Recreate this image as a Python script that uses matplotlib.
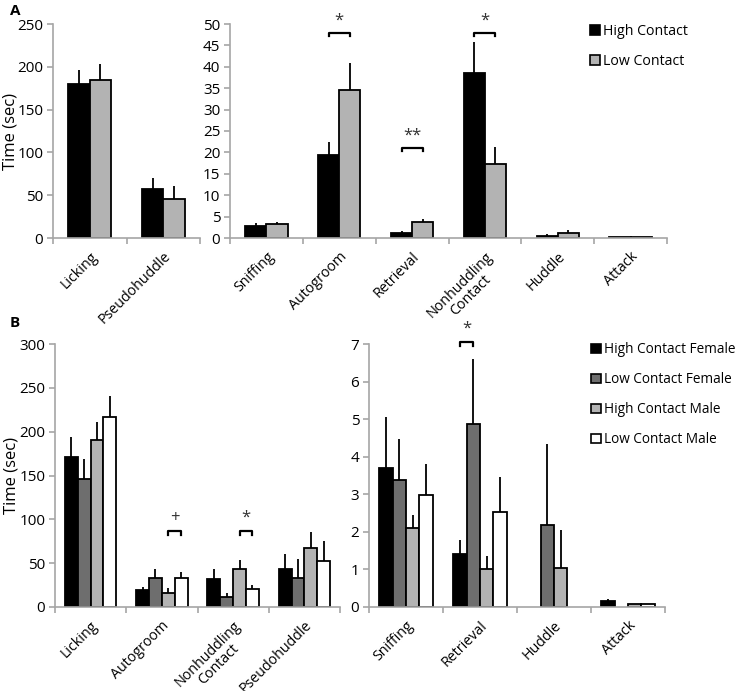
import numpy as np
import matplotlib
matplotlib.use("Agg")
import matplotlib.pyplot as plt
from matplotlib.patches import Patch

plt.rcParams['font.family'] = ['Open Sans', 'DejaVu Sans']

# ---------------- data: panel A ----------------
a_left_cats = ["Licking", "Pseudohuddle"]
a_left_high = [180, 57]
a_left_high_err = [16, 13]
a_left_low = [185, 45]
a_left_low_err = [18, 16]

a_right_cats = ["Sniffing", "Autogroom", "Retrieval", "Nonhuddling\nContact", "Huddle", "Attack"]
a_right_high = [2.9, 19.3, 1.2, 38.5, 0.55, 0.15]
a_right_high_err = [0.5, 3.2, 0.4, 7.4, 0.45, 0.05]
a_right_low = [3.2, 34.6, 3.7, 17.2, 1.25, 0.15]
a_right_low_err = [0.5, 6.2, 0.8, 4.1, 0.65, 0.05]

a_groups = ["High Contact", "Low Contact"]
a_colors = ["black", "#b3b3b3"]

# significance marks in panel A right: (category index, height, text)
a_sig = [(1, 48.0, "*"), (2, 21.0, "**"), (3, 48.0, "*")]

# ---------------- data: panel B ----------------
b_left_cats = ["Licking", "Autogroom", "Nonhuddling\nContact", "Pseudohuddle"]
b_left_vals = [
    [171, 19.1, 32.0, 43.8],   # High Contact Female
    [146, 33.5, 11.4, 33.5],   # Low Contact Female
    [191, 16.4, 43.8, 67.5],   # High Contact Male
    [217, 33.5, 20.2, 52.3],   # Low Contact Male
]
b_left_err = [
    [23, 4.2, 11.5, 16.8],
    [23, 10.0, 5.0, 21.8],
    [20, 5.0, 9.6, 18.3],
    [24, 6.5, 4.6, 23.2],
]

b_right_cats = ["Sniffing", "Retrieval", "Huddle", "Attack"]
b_right_vals = [
    [3.70, 1.41, 0.0, 0.15],
    [3.37, 4.88, 2.19, 0.0],
    [2.11, 1.00, 1.05, 0.07],
    [2.99, 2.52, 0.0, 0.07],
]
b_right_err = [
    [1.36, 0.38, 0.0, 0.06],
    [1.11, 1.72, 2.14, 0.0],
    [0.35, 0.36, 1.01, 0.02],
    [0.81, 0.93, 0.0, 0.02],
]

b_groups = ["High Contact Female", "Low Contact Female", "High Contact Male", "Low Contact Male"]
b_colors = ["black", "#6e6e6e", "#b3b3b3", "white"]

# significance marks in panel B: (category index, bar i, bar j, height, text)
b_left_sig = [(1, 2, 3, 86.6, "+"), (2, 2, 3, 86.6, "*")]
b_right_sig = [(1, 0, 1, 7.05, "*")]

AXIS_GRAY = "#a6a6a6"
W, H = 744, 691


def make_axes(fig, x0, y0, x1, y1):
    return fig.add_axes([x0 / W, 1 - y1 / H, (x1 - x0) / W, (y1 - y0) / H])


def style_axes(ax, ncat, cats, ymax, ystep):
    for s in ["top", "right"]:
        ax.spines[s].set_visible(False)
    for s in ["left", "bottom"]:
        ax.spines[s].set_color(AXIS_GRAY)
        ax.spines[s].set_linewidth(1.2)
    ax.set_xlim(0, ncat)
    ax.set_ylim(0, ymax)
    ax.set_yticks(np.arange(0, ymax + ystep / 2, ystep))
    ax.tick_params(axis="y", colors=AXIS_GRAY, labelcolor="black", length=4,
                   width=1.2, labelsize=11, pad=3)
    # category boundaries as ticks, labels at centres
    ax.set_xticks(np.arange(0, ncat + 1), minor=False)
    ax.set_xticklabels([])
    ax.tick_params(axis="x", which="major", colors=AXIS_GRAY, length=4, width=1.2)
    ax.set_xticks(np.arange(ncat) + 0.5, minor=True)
    ax.set_xticklabels(cats, minor=True, rotation=45, ha="right",
                       rotation_mode="anchor", fontsize=10.3, multialignment="center",
                       linespacing=1.0)
    ax.tick_params(axis="x", which="minor", length=0, pad=8, labelcolor="black")


def draw_bars(ax, vals, errs, colors, width):
    n = len(vals)
    x = np.arange(len(vals[0])) + 0.5
    offs = (np.arange(n) - (n - 1) / 2) * width
    for i in range(n):
        v = np.array(vals[i], dtype=float)
        e = np.array(errs[i], dtype=float)
        keep = v > 0
        ax.bar((x + offs[i])[keep], v[keep], width, color=colors[i], edgecolor="black",
               linewidth=1.3, zorder=2)
        for xi, vi, ei in zip(x + offs[i], v, e):
            if ei > 0:
                ax.plot([xi, xi], [vi, vi + ei], color="black", lw=1.3, zorder=3,
                        solid_capstyle="butt")
    return x, offs


def bracket(ax, x0, x1, y, text, ymax):
    d = ymax * 0.015
    ax.plot([x0, x0, x1, x1], [y - d, y, y, y - d], color="black", lw=1.6,
            clip_on=False, zorder=4)
    ax.text((x0 + x1) / 2, y + ymax * 0.02, text, ha="center", va="bottom",
            fontsize=12, color="#333333", clip_on=False)


fig = plt.figure(figsize=(W / 100, H / 100), dpi=100)

# ---- panel A ----
axA1 = make_axes(fig, 53, 24, 200, 238)
style_axes(axA1, 2, a_left_cats, 250, 50)
draw_bars(axA1, [a_left_high, a_left_low], [a_left_high_err, a_left_low_err], a_colors, 0.29)
axA1.set_ylabel("Time (sec)", fontsize=12, va="center")
axA1.yaxis.set_label_coords((10 - 53) / 147, 0.5)

axA2 = make_axes(fig, 230, 24, 667, 238)
style_axes(axA2, 6, a_right_cats, 50, 5)
xA, offA = draw_bars(axA2, [a_right_high, a_right_low], [a_right_high_err, a_right_low_err],
                     a_colors, 0.29)
for ci, h, t in a_sig:
    bracket(axA2, xA[ci] + offA[0], xA[ci] + offA[1], h, t, 50)

handlesA = [Patch(facecolor=c, edgecolor="black", linewidth=1.2) for c in a_colors]
fig.legend(handlesA, a_groups, loc="upper left", bbox_to_anchor=(584 / W, 1 - 18 / H),
           frameon=False, fontsize=10.2, handlelength=0.7, handleheight=0.7,
           handletextpad=0.25, labelspacing=1.1, borderaxespad=0)

# ---- panel B ----
axB1 = make_axes(fig, 55, 344, 340, 607)
style_axes(axB1, 4, b_left_cats, 300, 50)
xB1, offB1 = draw_bars(axB1, b_left_vals, b_left_err, b_colors, 0.18)
axB1.set_ylabel("Time (sec)", fontsize=12, va="center")
axB1.yaxis.set_label_coords((12 - 55) / 285, 0.5)
for ci, i, j, h, t in b_left_sig:
    bracket(axB1, xB1[ci] + offB1[i], xB1[ci] + offB1[j], h, t, 300)

axB2 = make_axes(fig, 369, 344, 665, 607)
style_axes(axB2, 4, b_right_cats, 7, 1)
xB2, offB2 = draw_bars(axB2, b_right_vals, b_right_err, b_colors, 0.18)
for ci, i, j, h, t in b_right_sig:
    bracket(axB2, xB2[ci] + offB2[i], xB2[ci] + offB2[j], h, t, 7)

handlesB = [Patch(facecolor=c, edgecolor="black", linewidth=1.2) for c in b_colors]
fig.legend(handlesB, b_groups, loc="upper left", bbox_to_anchor=(586 / W, 1 - 337 / H),
           frameon=False, fontsize=9.8, handlelength=0.7, handleheight=0.7,
           handletextpad=0.25, labelspacing=1.1, borderaxespad=0)

fig.text(10 / W, 1 - 4 / H, "A", fontsize=11, fontweight="bold", va="top")
fig.text(10 / W, 1 - 316 / H, "B", fontsize=11, fontweight="bold", va="top")

fig.savefig("out.png", dpi=100)
